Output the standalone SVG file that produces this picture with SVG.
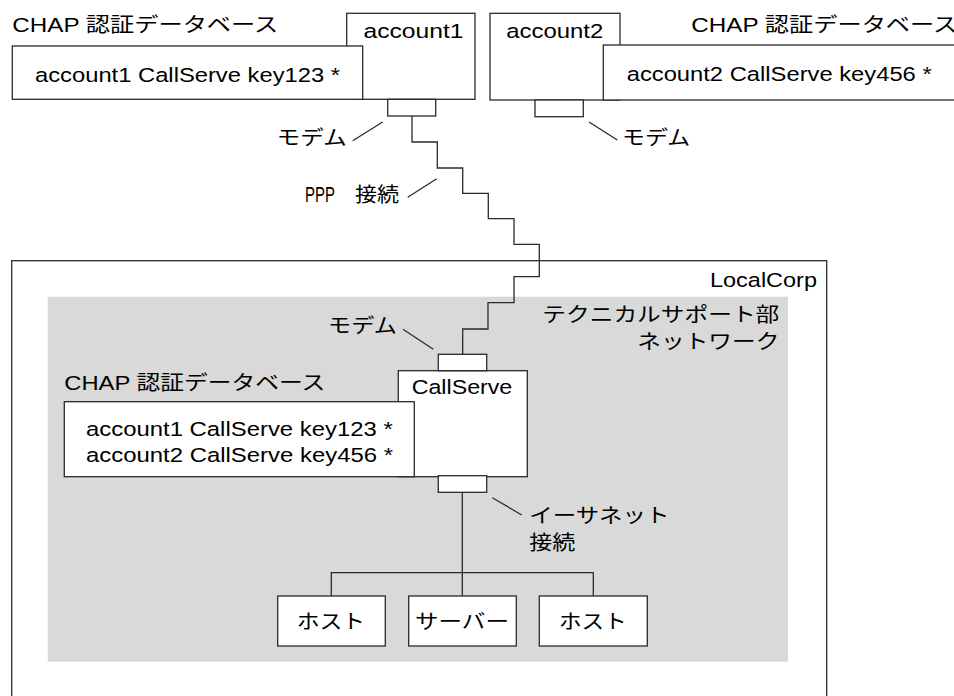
<svg xmlns="http://www.w3.org/2000/svg" width="954" height="696" viewBox="0 0 954 696">
<style>
.b{fill:#fff;stroke:#2a2a2a;stroke-width:1.3}
.ln{fill:none;stroke:#2a2a2a;stroke-width:1.3}
.t{font-family:"Liberation Sans","Noto Sans CJK JP",sans-serif;font-size:20.5px;fill:#000}
.j{font-family:"Noto Sans CJK JP","Liberation Sans",sans-serif;font-size:20px;fill:#000}
</style>
<rect width="954" height="696" fill="#fff"/>
<g id="localcorp">
<rect x="11.7" y="260.7" width="815" height="460" class="b"/>
<text class="t" x="710" y="286.7" textLength="107" lengthAdjust="spacingAndGlyphs">LocalCorp</text>
</g>
<g id="network">
<rect x="47.7" y="296.7" width="740.3" height="365" fill="#d9d9d9"/>
<text class="j" x="542.3" y="322" textLength="237" lengthAdjust="spacingAndGlyphs">テクニカルサポート部</text>
<text class="j" x="637.3" y="349" textLength="142" lengthAdjust="spacingAndGlyphs">ネットワーク</text>
</g>
<g id="account1">
<rect x="346.7" y="13.3" width="128.3" height="86" class="b"/>
<text class="t" x="363.5" y="38" textLength="100" lengthAdjust="spacingAndGlyphs">account1</text>
</g>
<g id="db1">
<text class="t" x="12.3" y="31.7" textLength="266" lengthAdjust="spacingAndGlyphs">CHAP 認証データベース</text>
<rect x="12.3" y="46" width="350.4" height="53.3" class="b"/>
<text class="t" x="35" y="81.5" textLength="305" lengthAdjust="spacingAndGlyphs">account1 CallServe key123 *</text>
</g>
<g id="modem1">
<rect x="387.7" y="99.3" width="48" height="16.7" class="b"/>
</g>
<g id="account2">
<rect x="490" y="13.3" width="130" height="86.7" class="b"/>
<text class="t" x="506.3" y="38" textLength="97" lengthAdjust="spacingAndGlyphs">account2</text>
</g>
<g id="db2">
<text class="t" x="691.3" y="31.7" textLength="266" lengthAdjust="spacingAndGlyphs">CHAP 認証データベース</text>
<rect x="603.3" y="45" width="360" height="55" class="b"/>
<text class="t" x="626.7" y="81" textLength="305" lengthAdjust="spacingAndGlyphs">account2 CallServe key456 *</text>
</g>
<g id="modem2">
<rect x="535" y="100" width="48.3" height="16.7" class="b"/>
</g>
<g id="callserve">
<rect x="398.3" y="370.7" width="129" height="106" class="b"/>
<text class="t" x="411.7" y="394" textLength="100.6" lengthAdjust="spacingAndGlyphs">CallServe</text>
</g>
<g id="db3">
<text class="t" x="64.3" y="390" textLength="261" lengthAdjust="spacingAndGlyphs">CHAP 認証データベース</text>
<rect x="64.3" y="401.7" width="350" height="75" class="b"/>
<text class="t" x="86" y="436" textLength="306.7" lengthAdjust="spacingAndGlyphs">account1 CallServe key123 *</text>
<text class="t" x="86" y="462" textLength="307" lengthAdjust="spacingAndGlyphs">account2 CallServe key456 *</text>
</g>
<g id="modem3">
<rect x="438.3" y="354.3" width="48.4" height="16.4" class="b"/>
</g>
<g id="modem4">
<rect x="438.3" y="475.7" width="48.4" height="16.6" class="b"/>
</g>
<g id="host1">
<rect x="277.7" y="596" width="107.6" height="50" class="b"/>
<text class="j" x="296.7" y="629" textLength="68.3" lengthAdjust="spacingAndGlyphs">ホスト</text>
</g>
<g id="server">
<rect x="408.7" y="596" width="107.6" height="50" class="b"/>
<text class="j" x="415" y="629" textLength="94" lengthAdjust="spacingAndGlyphs">サーバー</text>
</g>
<g id="host2">
<rect x="539.3" y="596" width="108" height="50" class="b"/>
<text class="j" x="559" y="629" textLength="67.7" lengthAdjust="spacingAndGlyphs">ホスト</text>
</g>
<g id="connectors">
<path class="ln" d="M412,116 V142 H437.3 V168 H462.7 V193.3 H488.3 V218.7 H514 V244.3 H539.3 V276.7 H514 V302.7 H488 V329 H462.7 V354.3"/>
<path class="ln" d="M462.3,492.3 V596 M331.3,596 V572.7 H593.3 V596"/>
<path class="ln" d="M382.7,122 L352.7,140.7"/>
<path class="ln" d="M589,122 L617.3,140"/>
<path class="ln" d="M436.7,178.7 L407.7,197.3"/>
<path class="ln" d="M403,329.3 L433.3,349.3"/>
<path class="ln" d="M492.3,497.7 L521.7,515"/>
</g>
<g id="labels">
<text class="j" x="276.7" y="145" textLength="70" lengthAdjust="spacingAndGlyphs">モデム</text>
<text class="j" x="622" y="145" textLength="68.3" lengthAdjust="spacingAndGlyphs">モデム</text>
<text class="t" transform="translate(305,201.7) scale(0.68,1)" style="font-size:22px">PPP</text>
<text class="j" x="355" y="201.7" textLength="44" lengthAdjust="spacingAndGlyphs">接続</text>
<text class="j" x="328" y="333" textLength="69" lengthAdjust="spacingAndGlyphs">モデム</text>
<text class="j" x="529.3" y="523" textLength="140" lengthAdjust="spacingAndGlyphs">イーサネット</text>
<text class="j" x="529.3" y="550" textLength="46" lengthAdjust="spacingAndGlyphs">接続</text>
</g>
</svg>
